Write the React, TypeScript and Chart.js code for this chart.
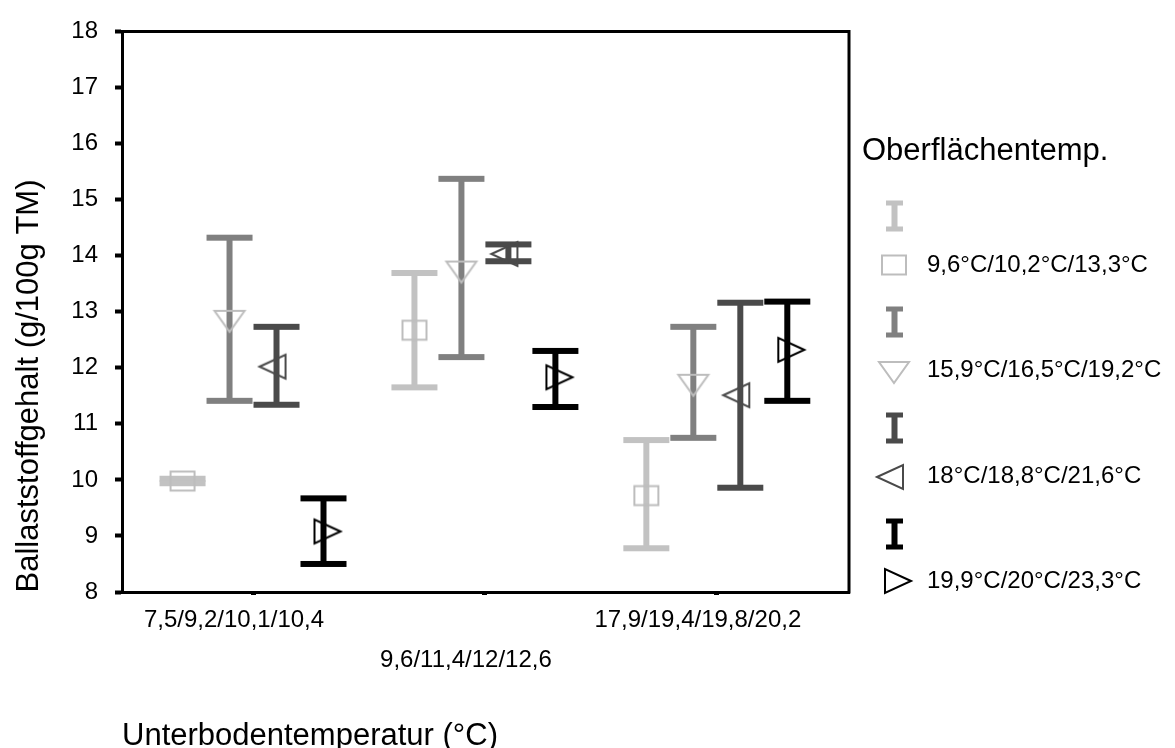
import React, { useEffect, useRef } from 'react';
import { Chart, registerables } from 'chart.js';

Chart.register(...registerables);

// Unterboden temperature groups (x categories)
const categories = ['7,5/9,2/10,1/10,4', '9,6/11,4/12/12,6', '17,9/19,4/19,8/20,2'];

// Oberflächentemperatur groups (series)
const seriesLabels = ['9,6°C/10,2°C/13,3°C', '15,9°C/16,5°C/19,2°C', '18°C/18,8°C/21,6°C', '19,9°C/20°C/23,3°C'];

// Mean values and error-bar limits per series (g/100g TM)
const mean96 = [9.98, 12.67, 9.72];
const low96 = [9.94, 11.65, 8.78];
const high96 = [10.02, 13.69, 10.71];

const mean159 = [12.89, 13.77, 11.75];
const low159 = [11.41, 12.19, 10.75];
const high159 = [14.32, 15.37, 12.73];

const mean180 = [12.02, 14.03, 11.51];
const low180 = [11.34, 13.9, 9.86];
const high180 = [12.73, 14.2, 13.16];

const mean199 = [9.08, 11.83, 12.32];
const low199 = [8.5, 11.3, 11.41];
const high199 = [9.67, 12.3, 13.18];

const yTicks = [8, 9, 10, 11, 12, 13, 14, 15, 16, 17, 18];

const means = [mean96, mean159, mean180, mean199];
const lows = [low96, low159, low180, low199];
const highs = [high96, high159, high180, high199];

const barColors = ['#c2c2c2', '#808080', '#4a4a4a', '#000000'];
const markerColors = ['#bdbdbd', '#bdbdbd', '#4a4a4a', '#000000'];
const markerKinds = ['square', 'down', 'left', 'right'];
const FONT = '"Liberation Sans", Arial, sans-serif';

// Spread of the four series around each category centre (category units)
const SERIES_STEP = 0.2026;
const seriesOffset = (i: number) => (i - 1.5) * SERIES_STEP;

function makeMarker(kind: string, color: string): HTMLCanvasElement {
  const size = 40;
  const c = 20;
  const cv = document.createElement('canvas');
  cv.width = size;
  cv.height = size;
  const g = cv.getContext('2d')!;
  g.strokeStyle = color;
  g.lineWidth = 2;
  g.lineJoin = 'miter';
  g.beginPath();
  if (kind === 'square') {
    g.rect(c - 12, c - 9.5, 24, 19);
  } else if (kind === 'down') {
    g.moveTo(c - 15, c - 7);
    g.lineTo(c + 15, c - 7);
    g.lineTo(c, c + 14);
    g.closePath();
  } else if (kind === 'left') {
    g.moveTo(c - 17, c);
    g.lineTo(c + 9, c - 12);
    g.lineTo(c + 9, c + 12);
    g.closePath();
  } else {
    g.moveTo(c + 17, c);
    g.lineTo(c - 9, c - 12);
    g.lineTo(c - 9, c + 12);
    g.closePath();
  }
  g.stroke();
  return cv;
}

function drawErrorBar(ctx: CanvasRenderingContext2D, x: number, yTop: number, yBot: number, capW: number, capH: number, stemW: number, color: string) {
  ctx.fillStyle = color;
  ctx.fillRect(x - stemW / 2, yTop, stemW, yBot - yTop);
  ctx.fillRect(x - capW / 2, yTop - capH / 2, capW, capH);
  ctx.fillRect(x - capW / 2, yBot - capH / 2, capW, capH);
}

export default function App() {
  const ref = useRef<HTMLCanvasElement>(null);

  useEffect(() => {
    document.body.style.margin = '0';
    const markers = markerKinds.map((k, i) => makeMarker(k, markerColors[i]));

    const errorBars = {
      id: 'errorBars',
      beforeDatasetsDraw(chart: any) {
        const { ctx, scales } = chart;
        const xs = scales.x;
        const ys = scales.y;
        ctx.save();
        means.forEach((_, i) => {
          categories.forEach((__, j) => {
            const x = xs.getPixelForValue(j + seriesOffset(i));
            const yTop = ys.getPixelForValue(highs[i][j]);
            const yBot = ys.getPixelForValue(lows[i][j]);
            drawErrorBar(ctx, x, yTop, yBot, 46, 6, 6, barColors[i]);
          });
        });
        ctx.restore();
      },
    };

    const decorations = {
      id: 'decorations',
      afterDraw(chart: any) {
        const { ctx, chartArea, scales } = chart;
        const xs = scales.x;
        ctx.save();
        // frame top and right
        ctx.strokeStyle = '#000';
        ctx.lineWidth = 3;
        ctx.beginPath();
        ctx.moveTo(chartArea.left - 1.5, chartArea.top);
        ctx.lineTo(chartArea.right, chartArea.top);
        ctx.lineTo(chartArea.right, chartArea.bottom + 1.5);
        ctx.stroke();

        ctx.fillStyle = '#000';
        // staggered category labels
        ctx.font = `24px ${FONT}`;
        ctx.textAlign = 'center';
        ctx.textBaseline = 'alphabetic';
        categories.forEach((lab, j) => {
          const x = xs.getPixelForValue(j) - 19;
          const y = chartArea.bottom + (j % 2 === 1 ? 75 : 35);
          ctx.fillText(lab, x, y);
        });

        // axis titles
        ctx.font = `31px ${FONT}`;
        ctx.textAlign = 'left';
        ctx.fillText('Unterbodentemperatur (°C)', 122, 745);

        ctx.save();
        ctx.translate(38, 386);
        ctx.rotate(-Math.PI / 2);
        ctx.textAlign = 'center';
        ctx.fillText('Ballaststoffgehalt (g/100g TM)', 0, 0);
        ctx.restore();

        // legend
        ctx.textAlign = 'left';
        ctx.font = `31px ${FONT}`;
        ctx.fillText('Oberflächentemp.', 862, 160);
        ctx.font = `24px ${FONT}`;
        const markerY = [265, 369, 477, 581];
        seriesLabels.forEach((lab, i) => {
          const iconY = 216 + i * 106;
          drawErrorBar(ctx, 894.5, iconY - 13, iconY + 13, 17, 5, 6, barColors[i]);
          const m = markers[i];
          ctx.drawImage(m, 894 - m.width / 2, markerY[i] - m.height / 2);
          ctx.fillStyle = '#000';
          ctx.fillText(lab, 927, 272 + i * 105.3);
        });
        ctx.restore();
      },
    };

    const datasets = means.map((m, i) => ({
      label: seriesLabels[i],
      data: m.map((v, j) => ({ x: j + seriesOffset(i), y: v })),
      pointStyle: markers[i],
      pointRadius: 10,
      showLine: false,
      borderColor: markerColors[i],
      backgroundColor: 'transparent',
    }));

    const chart = new Chart(ref.current!, {
      type: 'scatter',
      data: { datasets },
      plugins: [errorBars, decorations],
      options: {
        animation: false,
        responsive: false,
        devicePixelRatio: 1,
        events: [],
        layout: { padding: { left: 0, top: 17, right: 326, bottom: 0 } },
        plugins: { legend: { display: false }, tooltip: { enabled: false } },
        scales: {
          x: {
            type: 'linear',
            min: -0.565,
            max: 2.57,
            afterBuildTicks: (s: any) => {
              s.ticks = categories.map((_, j) => ({ value: j }));
            },
            afterFit: (s: any) => {
              s.height = 156;
            },
            ticks: { display: false },
            grid: { drawOnChartArea: false, drawTicks: true, tickLength: 3, tickWidth: 5, tickColor: '#000' },
            border: { color: '#000', width: 3 },
          },
          y: {
            type: 'linear',
            min: yTicks[0],
            max: yTicks[yTicks.length - 1],
            afterBuildTicks: (s: any) => {
              s.ticks = yTicks.map((v) => ({ value: v }));
            },
            afterFit: (s: any) => {
              s.width = 122;
            },
            ticks: {
              color: '#000',
              font: { family: FONT, size: 24 },
              padding: 17,
              callback: (v: any) => String(v),
            },
            grid: { drawOnChartArea: false, drawTicks: true, tickLength: 7, tickWidth: 4, tickColor: '#000' },
            border: { color: '#000', width: 3 },
          },
        },
      },
    });
    return () => chart.destroy();
  }, []);

  return (
    <div style={{ width: 1175, height: 748, background: '#fff' }}>
      <canvas ref={ref} width={1175} height={748} style={{ display: 'block' }} />
    </div>
  );
}
